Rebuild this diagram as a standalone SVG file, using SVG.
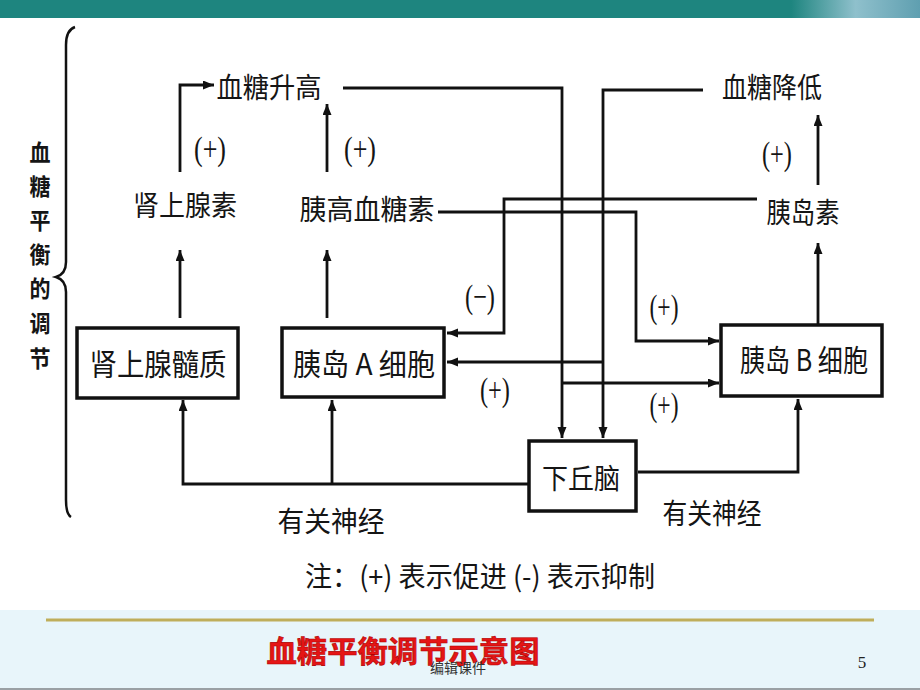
<svg xmlns="http://www.w3.org/2000/svg" width="920" height="690" viewBox="0 0 920 690">
<defs>
<marker id="ah" markerUnits="userSpaceOnUse" markerWidth="12" markerHeight="10" refX="11" refY="4.5" orient="auto"><path d="M0,0 L11,4.5 L0,9 z" fill="#111"/></marker>
<linearGradient id="tg" x1="0" x2="1" y1="0" y2="0"><stop offset="0" stop-color="#1e857f"/><stop offset="0.86" stop-color="#1e857f"/><stop offset="0.93" stop-color="#8fc0cc"/><stop offset="1" stop-color="#5f9fb0"/></linearGradient>
<style>
.t{font-family:"Noto Sans CJK SC","Noto Sans CJK TC",sans-serif;fill:#151515;text-anchor:middle}
.p{font-family:"Liberation Serif",serif;font-size:34px;fill:#151515;text-anchor:middle}
.box{fill:#fff;stroke:#111;stroke-width:3.5}
.ln{fill:none;stroke:#111;stroke-width:2.8}
</style>
</defs>
<rect x="0" y="0" width="920" height="690" fill="#fff"/>
<rect x="0" y="0" width="920" height="18" fill="url(#tg)"/>
<rect x="0" y="610" width="920" height="80" fill="#e8f5fa"/>
<line x1="46" y1="620" x2="874" y2="620" stroke="#bfae5a" stroke-width="3"/>
<line x1="0" y1="689" x2="920" y2="689" stroke="#9aa0a4" stroke-width="2"/>

<g id="brace">
<path d="M75,27 Q66,30 66,45 L66,262 Q66,274 56,277 Q66,280 66,292 L66,500 Q66,514 71,517" fill="none" stroke="#111" stroke-width="2.5"/>
</g>
<g id="side-label" class="t" style="font-size:23px;font-weight:bold">
<text x="40" y="161" textLength="21" lengthAdjust="spacingAndGlyphs">血</text>
<text x="40" y="195" textLength="21" lengthAdjust="spacingAndGlyphs">糖</text>
<text x="40" y="229" textLength="21" lengthAdjust="spacingAndGlyphs">平</text>
<text x="40" y="263" textLength="21" lengthAdjust="spacingAndGlyphs">衡</text>
<text x="40" y="297" textLength="21" lengthAdjust="spacingAndGlyphs">的</text>
<text x="40" y="332" textLength="21" lengthAdjust="spacingAndGlyphs">调</text>
<text x="40" y="367" textLength="21" lengthAdjust="spacingAndGlyphs">节</text>
</g>

<g id="connectors">
<path class="ln" d="M180,172 V85 H214" marker-end="url(#ah)"/>
<path class="ln" d="M327,172 V104" marker-end="url(#ah)"/>
<path class="ln" d="M180,318 V250" marker-end="url(#ah)"/>
<path class="ln" d="M327,318 V250" marker-end="url(#ah)"/>
<path class="ln" d="M343,88 H562 V438" marker-end="url(#ah)"/>
<path class="ln" d="M703,90 H603 V438" marker-end="url(#ah)"/>
<path class="ln" d="M757,199 H504 V333 H447" marker-end="url(#ah)"/>
<path class="ln" d="M438,212 H636 V341 H719" marker-end="url(#ah)"/>
<path class="ln" d="M603,362 H447" marker-end="url(#ah)"/>
<path class="ln" d="M562,383 H719" marker-end="url(#ah)"/>
<path class="ln" d="M638,472 H798 V399" marker-end="url(#ah)"/>
<path class="ln" d="M528,484 H183 V400" marker-end="url(#ah)"/>
<path class="ln" d="M332,484 V400" marker-end="url(#ah)"/>
<path class="ln" d="M818,324 V243" marker-end="url(#ah)"/>
<path class="ln" d="M818,185 V115" marker-end="url(#ah)"/>
</g>

<g id="n-sugar-up"><text class="t" x="269" y="98" font-size="28" textLength="105" lengthAdjust="spacingAndGlyphs">血糖升高</text></g>
<g id="n-sugar-down"><text class="t" x="772" y="98" font-size="28" textLength="100" lengthAdjust="spacingAndGlyphs">血糖降低</text></g>
<g id="n-adrenaline"><text class="t" x="185" y="216" font-size="28" textLength="104" lengthAdjust="spacingAndGlyphs">肾上腺素</text></g>
<g id="n-glucagon"><text class="t" x="367" y="220" font-size="28" textLength="135" lengthAdjust="spacingAndGlyphs">胰高血糖素</text></g>
<g id="n-insulin"><text class="t" x="803" y="223" font-size="28" textLength="73" lengthAdjust="spacingAndGlyphs">胰岛素</text></g>

<g id="n-adrenal-medulla">
<rect class="box" x="77" y="328" width="161" height="70"/>
<text class="t" x="158" y="375" font-size="30" textLength="137" lengthAdjust="spacingAndGlyphs">肾上腺髓质</text>
</g>
<g id="n-a-cell">
<rect class="box" x="282" y="328" width="162" height="69"/>
<text class="t" x="364" y="375" font-size="30" textLength="142" lengthAdjust="spacingAndGlyphs">胰岛 A 细胞</text>
</g>
<g id="n-b-cell">
<rect class="box" x="721" y="325" width="161" height="71"/>
<text class="t" x="804" y="371" font-size="30" textLength="128" lengthAdjust="spacingAndGlyphs">胰岛 B 细胞</text>
</g>
<g id="n-hypothalamus">
<rect class="box" x="529" y="441" width="107" height="70"/>
<text class="t" x="581" y="489" font-size="28" textLength="78" lengthAdjust="spacingAndGlyphs">下丘脑</text>
</g>

<g id="labels">
<text class="p" x="210" y="160" textLength="32" lengthAdjust="spacingAndGlyphs">(+)</text>
<text class="p" x="360" y="160" textLength="32" lengthAdjust="spacingAndGlyphs">(+)</text>
<text class="p" x="777" y="165" textLength="30" lengthAdjust="spacingAndGlyphs">(+)</text>
<text class="p" x="480" y="308" textLength="30" lengthAdjust="spacingAndGlyphs">(−)</text>
<text class="p" x="664" y="318" textLength="29" lengthAdjust="spacingAndGlyphs">(+)</text>
<text class="p" x="495" y="401" textLength="30" lengthAdjust="spacingAndGlyphs">(+)</text>
<text class="p" x="664" y="416" textLength="29" lengthAdjust="spacingAndGlyphs">(+)</text>
<text class="t" x="331" y="532" font-size="28" textLength="107" lengthAdjust="spacingAndGlyphs">有关神经</text>
<text class="t" x="712" y="524" font-size="28" textLength="99" lengthAdjust="spacingAndGlyphs">有关神经</text>
<text class="t" x="480" y="587" font-size="28" textLength="350" lengthAdjust="spacingAndGlyphs">注：(+) 表示促进 (-) 表示抑制</text>
</g>

<g id="footer">
<text x="403" y="662" font-family="'Noto Sans CJK SC',sans-serif" font-size="30" font-weight="bold" fill="#e51515" stroke="#b00000" stroke-width="0.6" text-anchor="middle" textLength="273" lengthAdjust="spacingAndGlyphs">血糖平衡调节示意图</text>
<text x="458" y="673" font-family="'Noto Sans CJK SC',sans-serif" font-size="14" fill="#333" text-anchor="middle">编辑课件</text>
<text x="862" y="668" font-family="'Liberation Serif',serif" font-size="17" fill="#222" text-anchor="middle">5</text>
</g>
</svg>
